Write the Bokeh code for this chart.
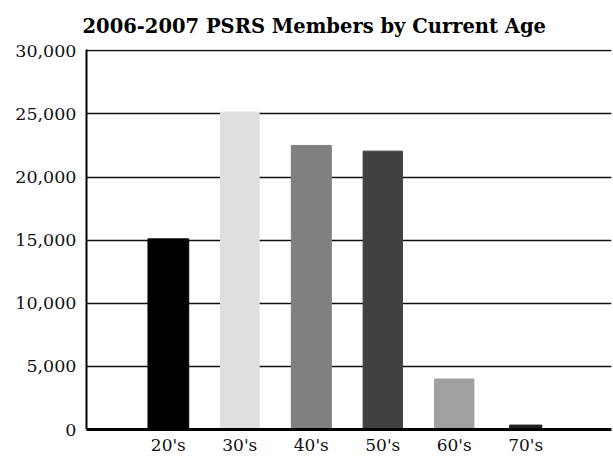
from bokeh.plotting import figure
from bokeh.models import ColumnDataSource, Range1d, FixedTicker, NumeralTickFormatter
from bokeh.embed import file_html
from bokeh.resources import INLINE

categories = ["20's", "30's", "40's", "50's", "60's", "70's"]
members = [15100, 25150, 22500, 22050, 4000, 350]
bar_colors = ["#000000", "#dfdfdf", "#808080", "#404040", "#a0a0a0", "#222222"]
bar_widths = [0.57, 0.54, 0.56, 0.55, 0.55, 0.45]
y_ticks = [0, 5000, 10000, 15000, 20000, 25000, 30000]

xs = list(range(len(categories)))
src = ColumnDataSource(dict(x=xs, top=members, color=bar_colors, w=bar_widths))

p = figure(width=612, height=457, output_backend="svg", toolbar_location=None,
           x_range=Range1d(-1.145, 6.2), y_range=Range1d(0, 30100),
           min_border_left=86, min_border_right=1, min_border_top=48, min_border_bottom=27)

p.vbar(x="x", top="top", width="w", bottom=0, color="color", source=src)

p.title.text = "2006-2007 PSRS Members by Current Age"
p.title.text_font = "DejaVu Serif"
p.title.text_font_size = "19.5px"
p.title.text_font_style = "bold"
p.title.text_color = "black"
p.title.align = "left"
p.title.offset = -4
p.title.standoff = 24

p.outline_line_color = None
p.background_fill_color = "white"
p.border_fill_color = "white"

p.xgrid.grid_line_color = None
p.ygrid.grid_line_color = "#111111"
p.ygrid.grid_line_width = 1.5
p.yaxis.ticker = FixedTicker(ticks=y_ticks)
p.yaxis.formatter = NumeralTickFormatter(format="0,0")
p.yaxis.axis_line_color = "black"
p.yaxis.axis_line_width = 2
p.yaxis.major_tick_line_color = None
p.yaxis.minor_tick_line_color = None
p.yaxis.major_tick_out = 0
p.yaxis.major_tick_in = 0
p.yaxis.major_label_standoff = 10
p.yaxis.major_label_text_font = "DejaVu Serif"
p.yaxis.major_label_text_font_size = "17.5px"
p.yaxis.major_label_text_color = "#111111"

p.xaxis.ticker = FixedTicker(ticks=xs)
p.xaxis.major_label_overrides = {i: c for i, c in zip(xs, categories)}
p.xaxis.axis_line_color = "black"
p.xaxis.axis_line_width = 3
p.xaxis.major_tick_line_color = None
p.xaxis.minor_tick_line_color = None
p.xaxis.major_tick_out = 0
p.xaxis.major_tick_in = 0
p.xaxis.major_label_standoff = 5
p.xaxis.major_label_text_font = "DejaVu Serif"
p.xaxis.major_label_text_font_size = "17px"
p.xaxis.major_label_text_color = "#111111"

open("out.html", "w").write(file_html(p, INLINE))
